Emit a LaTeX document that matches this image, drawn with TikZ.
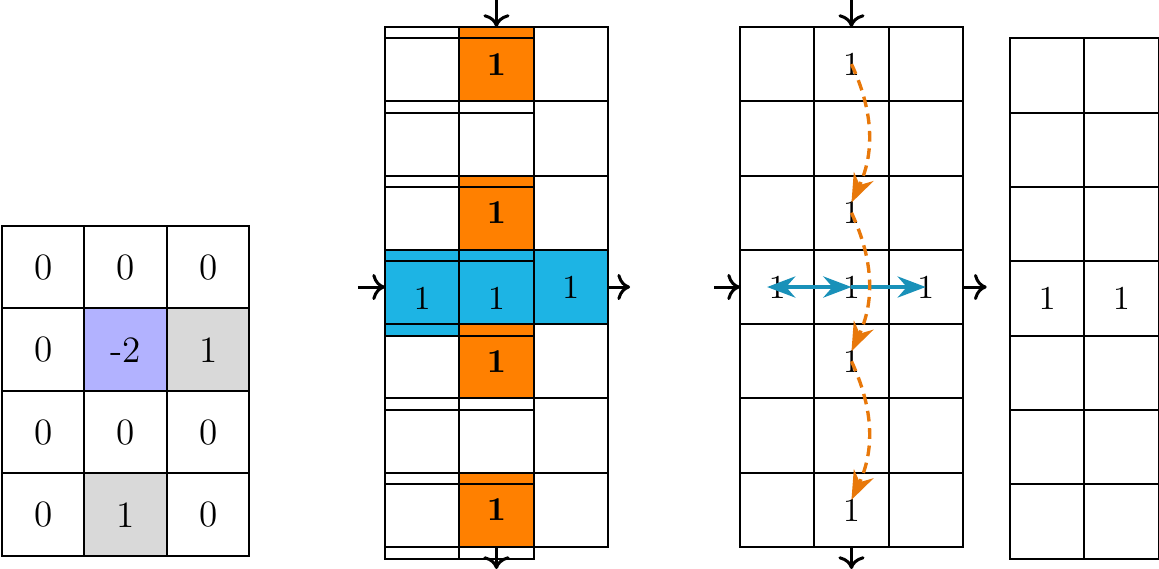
\documentclass[tikz,border=0pt]{standalone}
\usepackage{tikz}
\usetikzlibrary{arrows.meta}

\definecolor{cellBlue}{RGB}{29,180,228}
\definecolor{arrowBlue}{RGB}{25,145,185}
\definecolor{dashOrange}{RGB}{232,120,10}

\begin{document}
\begin{tikzpicture}[
    x=0.78cm, y=-0.78cm,
    cell/.style={draw, semithick, minimum size=0.78cm, inner sep=0pt, outer sep=0pt},
    kcell/.style={cell, minimum size=0.8658cm, font=\fontsize{11.1}{13}\selectfont},
    bgcell/.style={minimum size=0.78cm, inner sep=0pt, outer sep=0pt},
    digit/.style={inner sep=0pt},
    flow/.style={-{Computer Modern Rightarrow[length=3.8pt, width=7.8pt]}, line width=0.9pt},
    hflow/.style={very thick, arrowBlue},
    vflow/.style={line width=1pt, dash pattern=on 3.2pt off 2pt, dashOrange, -{Stealth[scale=1.15]}, bend left=25}
]
    \useasboundingbox (0,0) rectangle (15.599,7.658);

    % Kernel
    \node[bgcell, minimum size=0.8658cm, fill=blue!30] (kb) at (1.692,4.707) {};
    \node[bgcell, minimum size=0.8658cm, fill=black!15] (kg1) at (2.802,4.707) {};
    \node[bgcell, minimum size=0.8658cm, fill=black!15] (kg2) at (1.692,6.927) {};
    \foreach \a/\b/\c [count=\r] in {0/0/0, 0/-2/1, 0/0/0, 0/1/0} {
        \node[kcell] (k-\r-1) at (0.582,2.487+1.11*\r) {\a};
        \node[kcell] (k-\r-2) at (1.692,2.487+1.11*\r) {\b};
        \node[kcell] (k-\r-3) at (2.802,2.487+1.11*\r) {\c};
    }

    % Separable passes: horizontal (blue), vertical (orange)
    \node[bgcell, fill=cellBlue] (h1) at (5.682,3.863) {};
    \node[bgcell, fill=cellBlue] (h2) at (6.682,3.863) {};
    \node[bgcell, fill=cellBlue] (h3) at (7.682,3.863) {1};
    \node[bgcell, fill=cellBlue] (h1s) at (5.682,4.018) {1};
    \node[digit] (h2s) at (6.682,4.018) {1};
    \foreach \r in {1,3,5,7}
        \node[bgcell, fill=orange, font=\bfseries] (v\r) at (6.682,\r-0.137) {1};

    \foreach \r in {1,...,7} {
        \foreach \c in {1,2,3}
            \node[cell] (m-\r-\c) at (4.682+\c,\r-0.137) {};
        \foreach \c in {1,2}
            \node[cell] (s-\r-\c) at (4.682+\c,\r+0.018) {};
    }

    \coordinate (m-in) at (6.682,0);
    \coordinate (m-out) at (6.682,7.658);
    \coordinate (m-west) at (4.818,3.863);
    \coordinate (m-east) at (8.48,3.863);
    \draw[flow] (m-in) -- (m-1-2.north);
    \draw[flow] (m-7-2.south) -- (m-out);
    \draw[flow] (m-west) -- (m-4-1.west);
    \draw[flow] (m-4-3.east) -- (m-east);

    % Propagation grid
    \foreach \r in {1,...,7}
        \foreach \c in {1,2,3}
            \node[cell] (g-\r-\c) at (9.46+\c,\r-0.137) {};
    \node[digit] (t-1-2) at (g-1-2) {1};
    \node[digit] (t-3-2) at (g-3-2) {1};
    \node[digit] (t-4-1) at (g-4-1) {1};
    \node[digit] (t-4-2) at (g-4-2) {1};
    \node[digit] (t-4-3) at (g-4-3) {1};
    \node[digit] (t-5-2) at (g-5-2) {1};
    \node[digit] (t-7-2) at (g-7-2) {1};

    \draw[hflow, Stealth-Stealth] ([xshift=-3pt]t-4-1.center) -- (t-4-2.center);
    \draw[hflow, -Stealth] (t-4-2.center) -- (t-4-3.center);
    \draw[vflow] (t-1-2.center) to ([yshift=3pt]t-3-2.center);
    \draw[vflow] (t-3-2.center) to ([yshift=3pt]t-5-2.center);
    \draw[vflow] (t-5-2.center) to ([yshift=3pt]t-7-2.center);

    \coordinate (g-in) at (11.46,0);
    \coordinate (g-out) at (11.46,7.658);
    \coordinate (g-west) at (9.61,3.863);
    \coordinate (g-east) at (13.28,3.863);
    \draw[flow] (g-in) -- (g-1-2.north);
    \draw[flow] (g-7-2.south) -- (g-out);
    \draw[flow] (g-west) -- (g-4-1.west);
    \draw[flow] (g-4-3.east) -- (g-east);

    % Result
    \foreach \r in {1,...,7}
        \foreach \c in {1,2}
            \node[cell] (o-\r-\c) at (13.094+\c,\r+0.018) {};
    \node[digit] (r-1) at (o-4-1) {1};
    \node[digit] (r-2) at (o-4-2) {1};
\end{tikzpicture}
\end{document}
